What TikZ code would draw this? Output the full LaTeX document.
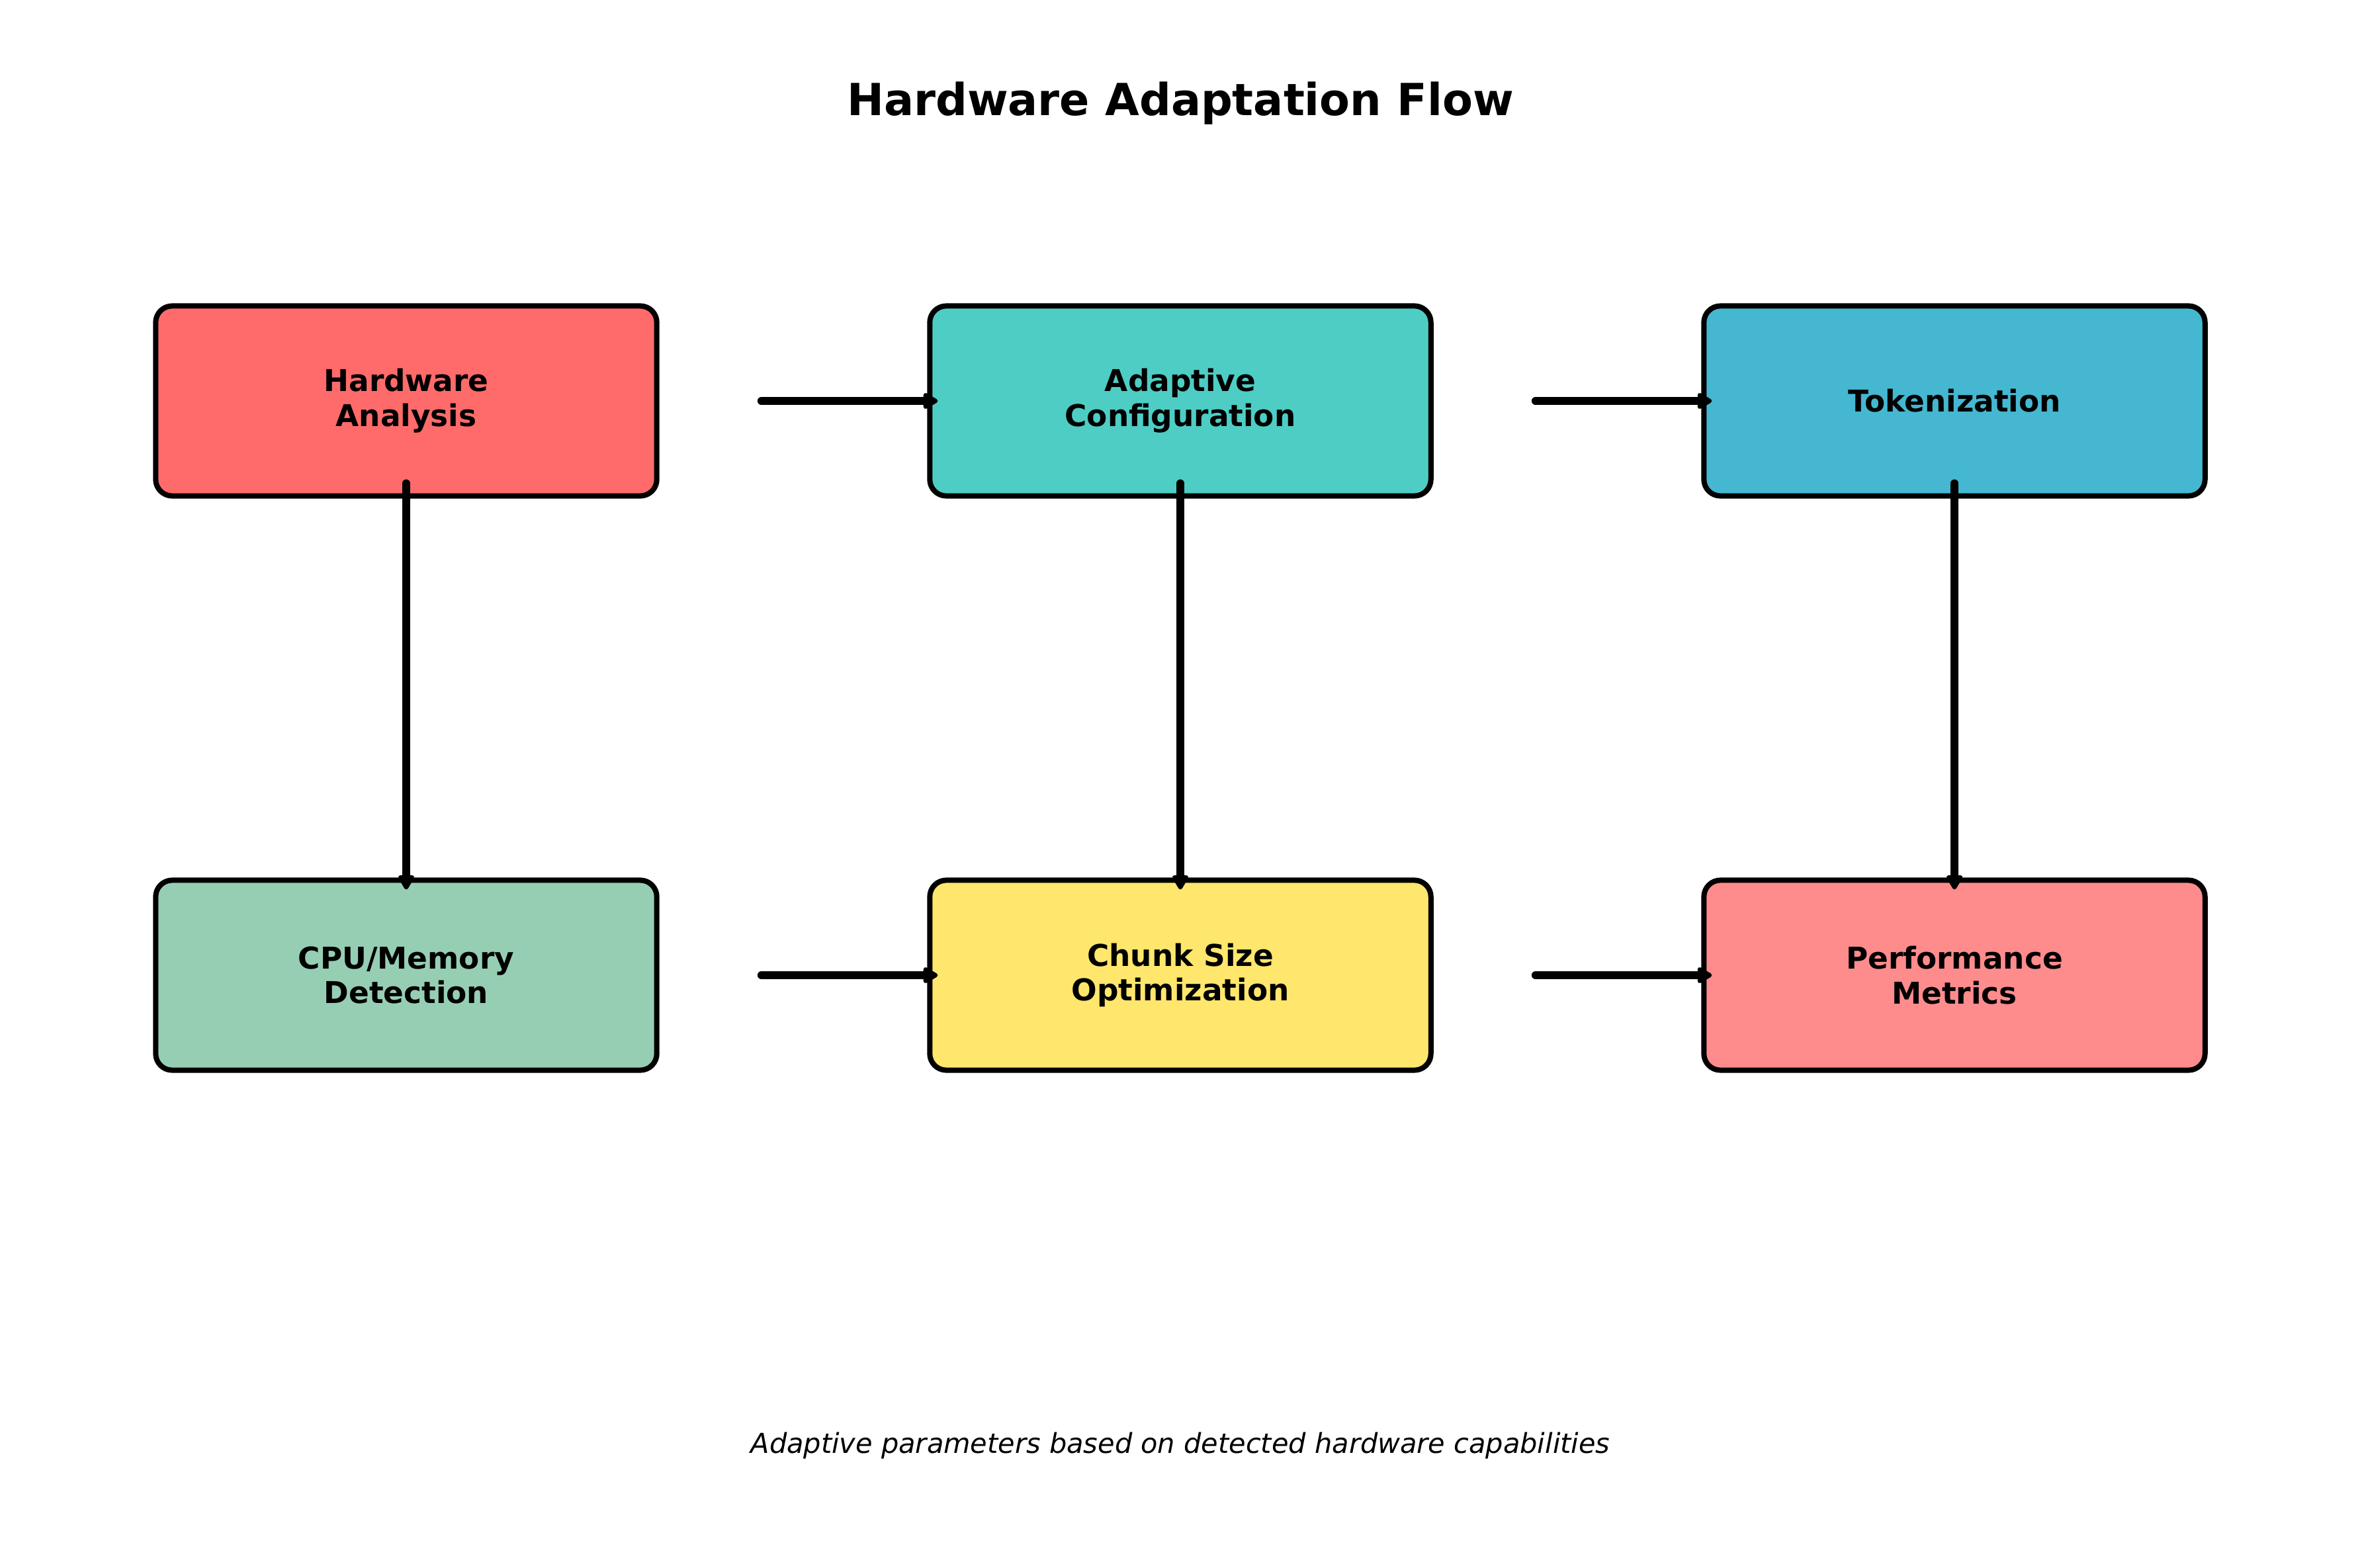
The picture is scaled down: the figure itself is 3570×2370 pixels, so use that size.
\documentclass[tikz,border=0pt]{standalone}
\usepackage{fontspec}
\setmainfont{DejaVu Sans}
\usetikzlibrary{arrows.meta}
\definecolor{cA}{HTML}{FF6B6B}
\definecolor{cB}{HTML}{4ECDC4}
\definecolor{cC}{HTML}{45B7D1}
\definecolor{cD}{HTML}{96CEB4}
\definecolor{cE}{HTML}{FFE66D}
\definecolor{cF}{HTML}{FF8C8C}
\tikzset{
  stepbox/.style={draw=black, line width=0.08cm, rounded corners=0.25cm,
    minimum width=7.57cm, minimum height=2.87cm, outer sep=0pt, inner sep=0pt,
    align=center, font=\fontsize{12.9pt}{15pt}\selectfont\bfseries},
  arr/.style={line width=0.12cm, line cap=round,
    -{Triangle[length=0.25cm, width=0.27cm, round]}},
}
\begin{document}
\begin{tikzpicture}[x=0.01cm, y=-0.01cm]
\useasboundingbox (0,0) rectangle (3570,2370);
\node (title) at (1784,156) {\fontsize{19pt}{22pt}\selectfont\bfseries Hardware Adaptation Flow};
\node[stepbox, fill=cA] (h1) at (614,606) {Hardware\\Analysis};
\node[stepbox, fill=cB] (h2) at (1784,606) {Adaptive\\Configuration};
\node[stepbox, fill=cC] (h3) at (2954,606) {Tokenization};
\node[stepbox, fill=cD] (l1) at (614,1474) {CPU/Memory\\Detection};
\node[stepbox, fill=cE] (l2) at (1784,1474) {Chunk Size\\Optimization};
\node[stepbox, fill=cF] (l3) at (2954,1474) {Performance\\Metrics};
\node (cap) at (1784,2185) {\fontsize{11.8pt}{14pt}\selectfont\itshape Adaptive parameters based on detected hardware capabilities};
% horizontal arrows
\draw[arr] ([xshift=1.58cm]h1.east) -- ([xshift=0.12cm]h2.west);
\draw[arr] ([xshift=1.58cm]h2.east) -- ([xshift=0.12cm]h3.west);
\draw[arr] ([xshift=1.58cm]l1.east) -- ([xshift=0.12cm]l2.west);
\draw[arr] ([xshift=1.58cm]l2.east) -- ([xshift=0.12cm]l3.west);
% vertical arrows
\draw[arr] ([yshift=0.19cm]h1.south) -- ([yshift=-0.14cm]l1.north);
\draw[arr] ([yshift=0.19cm]h2.south) -- ([yshift=-0.14cm]l2.north);
\draw[arr] ([yshift=0.19cm]h3.south) -- ([yshift=-0.14cm]l3.north);
\end{tikzpicture}
\end{document}
